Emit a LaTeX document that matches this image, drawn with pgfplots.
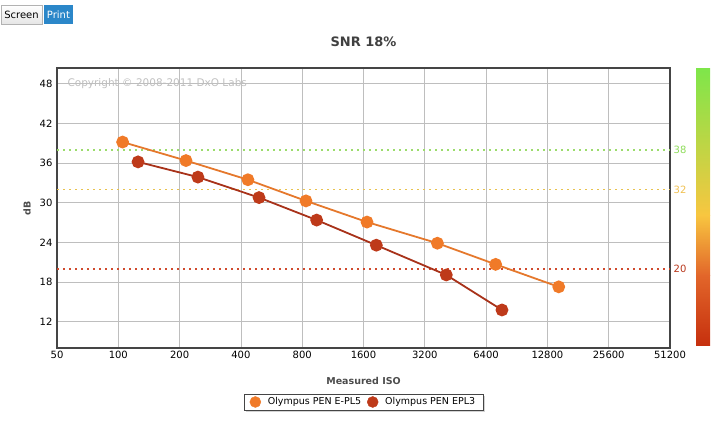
\documentclass[border=0pt]{standalone}
\usepackage{pgfplots}
\pgfplotsset{compat=1.18}
\usepackage{fontspec}
\setmainfont{DejaVu Sans}
\usetikzlibrary{shadows}

\definecolor{epl5}{HTML}{F07A28}
\definecolor{epl5line}{HTML}{E5782C}
\definecolor{epl3}{HTML}{BE3A1A}
\definecolor{epl3line}{HTML}{A8321A}
\definecolor{gridgray}{HTML}{BEBEBE}
\definecolor{framegray}{HTML}{454545}
\definecolor{lvgreen}{HTML}{8EDC5A}
\definecolor{lvyellow}{HTML}{F0C050}
\definecolor{lvred}{HTML}{B8361A}
\definecolor{dotgreen}{HTML}{9CDC6C}
\definecolor{dotyellow}{HTML}{E8C24E}
\definecolor{dotred}{HTML}{D04A2E}
\definecolor{cbgreen}{HTML}{7EE64A}
\definecolor{cbyellow}{HTML}{F8C640}
\definecolor{cborange}{HTML}{E2662A}
\definecolor{cbred}{HTML}{C6300E}
\definecolor{btnblue}{HTML}{2B87C9}

\begin{document}
\begin{tikzpicture}
\path[use as bounding box] (0pt,0pt) rectangle (713pt,-434pt);

% buttons
\draw[draw=black!30, top color=white, bottom color=black!10] (1pt,-5pt) rectangle (42pt,-24pt);
\node[font=\fontsize{10}{12}\selectfont] at (21.5pt,-14.5pt) {Screen};
\fill[btnblue] (44pt,-5pt) rectangle (73pt,-24pt);
\node[font=\fontsize{10}{12}\selectfont, text=white] at (58.5pt,-14.5pt) {Print};

\begin{axis}[
    at={(57pt,-348pt)}, anchor=south west,
    scale only axis, width=613pt, height=280pt,
    xmode=log, log basis x=2,
    xmin=50, xmax=51200, ymin=8.05, ymax=50.4,
    xtick={50,100,200,400,800,1600,3200,6400,12800,25600,51200},
    xticklabels={50,100,200,400,800,1600,3200,6400,12800,25600,51200},
    ytick={12,18,24,30,36,42,48},
    /pgf/number format/assume math mode=true,
    ticklabel style={font=\fontsize{10}{12}\selectfont},
    yticklabel style={xshift=-1pt},
    major tick length=0pt,
    grid=major,
    major grid style={gridgray, line width=0.8pt},
    axis line style={framegray, line width=1.8pt},
    clip=false,
    title={SNR 18\%},
    title style={at={(axis description cs:0.5,1.071)}, anchor=center,
                 font=\bfseries\fontsize{13}{15}\selectfont, text=black!75},
    xlabel={Measured ISO},
    xlabel style={at={(axis description cs:0.5,-0.118)}, anchor=center,
                  font=\bfseries\fontsize{9.5}{11}\selectfont, text=black!70},
    ylabel={dB},
    ylabel style={at={(axis description cs:-0.049,0.5)}, anchor=center,
                  font=\bfseries\fontsize{9.5}{11}\selectfont, text=black!70},
    legend style={at={(0.5,-0.164)}, anchor=north, legend columns=2,
                  draw=framegray, fill=white, inner xsep=6pt, inner ysep=1.5pt,
                  font=\fontsize{9.5}{11}\selectfont,
                  drop shadow={shadow xshift=2pt, shadow yshift=-2pt, opacity=0.35},
                  /tikz/every odd column/.append style={column sep=5pt},
                  /tikz/every even column/.append style={column sep=4pt}},
    legend cell align=left,
]
% level lines
\addplot[dotgreen, dash pattern=on 2pt off 4pt, line width=1.2pt, forget plot] coordinates {(50,38) (51200,38)};
\addplot[dotyellow, dash pattern=on 2pt off 4pt, line width=1.2pt, forget plot] coordinates {(50,32) (51200,32)};
\addplot[dotred, dash pattern=on 2pt off 4pt, line width=1.2pt, forget plot] coordinates {(50,20) (51200,20)};

\node[text=lvgreen, font=\fontsize{10}{12}\selectfont] at (axis cs:51200,38) [xshift=10pt] {38};
\node[text=lvyellow, font=\fontsize{10}{12}\selectfont] at (axis cs:51200,32) [xshift=10pt] {32};
\node[text=lvred, font=\fontsize{10}{12}\selectfont] at (axis cs:51200,20) [xshift=10pt] {20};

\node[anchor=west, text=black!25, font=\fontsize{10.5}{12}\selectfont] at (axis cs:50,48) [xshift=7pt] {Copyright © 2008-2011 DxO Labs};

% Olympus PEN E-PL5
\addplot[epl5line, line width=1.8pt, mark=*, mark size=5.5pt,
         mark options={fill=epl5, draw=epl5}, forget plot] coordinates {
    (105,39.2) (215,36.4) (433,33.5) (835,30.3)
    (1665,27.1) (3690,23.9) (7130,20.7) (14550,17.3)
};
% Olympus PEN EPL3
\addplot[epl3line, line width=1.8pt, mark=*, mark size=5.5pt,
         mark options={fill=epl3, draw=epl3}, forget plot] coordinates {
    (125,36.2) (246,33.9) (491,30.8) (942,27.4)
    (1850,23.6) (4080,19.1) (7660,13.8)
};

\addlegendimage{only marks, mark=*, mark size=5.5pt, mark options={fill=epl5, draw=epl5}}
\addlegendentry{Olympus PEN E-PL5}
\addlegendimage{only marks, mark=*, mark size=5.5pt, mark options={fill=epl3, draw=epl3}}
\addlegendentry{Olympus PEN EPL3}
\end{axis}

% colour scale
\shade[top color=cbgreen, bottom color=cbyellow] (696pt,-68pt) rectangle (710pt,-215.5pt);
\shade[top color=cbyellow, bottom color=cborange] (696pt,-215pt) rectangle (710pt,-275.5pt);
\shade[top color=cborange, bottom color=cbred] (696pt,-275pt) rectangle (710pt,-345pt);
\end{tikzpicture}
\end{document}
